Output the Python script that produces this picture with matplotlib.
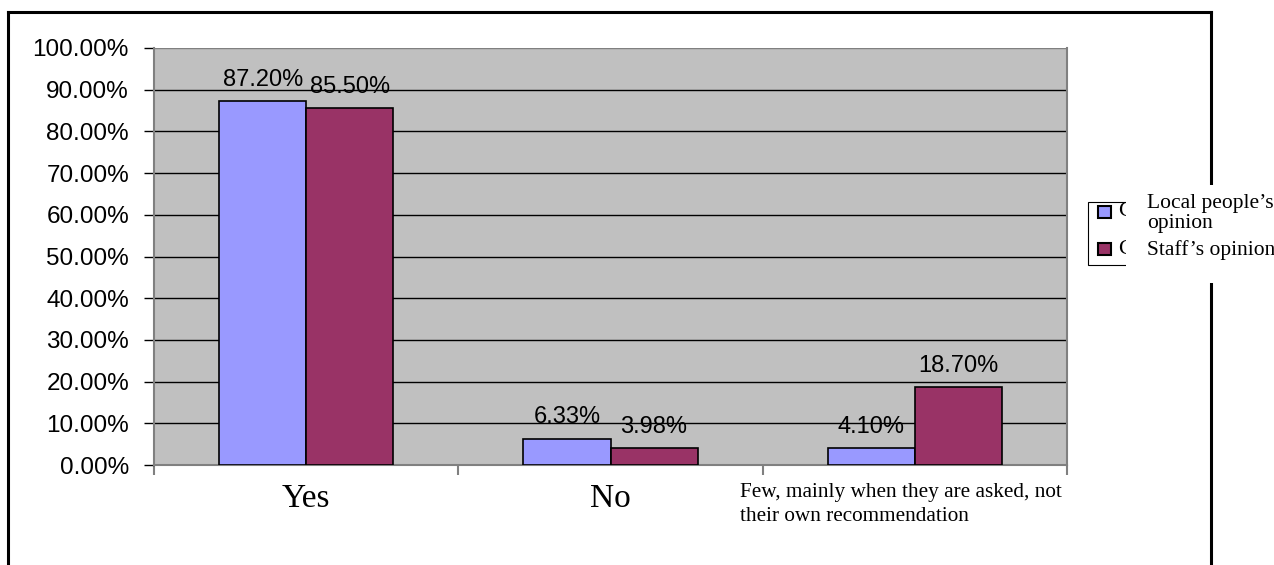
import matplotlib.pyplot as plt
from matplotlib.patches import Rectangle
from matplotlib.lines import Line2D
from matplotlib.transforms import ScaledTranslation
import numpy as np

# Dados
categories = ["Yes", "No", "Few, mainly when they are asked, not\ntheir own recommendation"]
local_people = [87.20, 6.33, 4.10]
staff = [85.50, 3.98, 18.70]
series_names = ["Local people\u2019s\nopinion", "Staff\u2019s opinion"]
y_ticks = [0, 10, 20, 30, 40, 50, 60, 70, 80, 90, 100]

blue = "#9999FF"
maroon = "#993366"

fig = plt.figure(figsize=(12.74, 5.65), dpi=100)
W, H = 1274, 565
ax = fig.add_axes([154 / W, 1 - 465 / H, (1067 - 154) / W, (465 - 48) / H])
ax.set_facecolor("#C0C0C0")

x = np.arange(len(categories))
bw = 0.286
b1 = ax.bar(x - bw / 2, local_people, bw, color=blue, edgecolor="black", linewidth=1.2, zorder=3)
b2 = ax.bar(x + bw / 2, staff, bw, color=maroon, edgecolor="black", linewidth=1.2, zorder=3)

# rótulos dos valores
for bars, vals in [(b1, local_people), (b2, staff)]:
    for rect, v in zip(bars, vals):
        ax.annotate(f"{v:.2f}%", (rect.get_x() + rect.get_width() / 2, v),
                    textcoords="offset points", xytext=(0, 11), ha="center", va="baseline",
                    fontsize=17, family="Liberation Sans", zorder=4)

ax.set_xlim(-0.5, 2.5)
ax.set_ylim(0, 100)
ax.set_yticks(y_ticks)
ax.set_yticklabels([f"{t:.2f}%" for t in y_ticks], family="Liberation Sans", fontsize=17.5)
ax.yaxis.grid(True, color="black", linewidth=1)
ax.set_axisbelow(True)
ax.get_ygridlines()[-1].set_color("#808080")

ax.set_xticks(x)
ax.set_xticklabels(categories, family="Liberation Serif", fontsize=24)
ax.set_xticks([-0.5, 0.5, 1.5, 2.5], minor=True)
ax.tick_params(axis="x", which="major", length=0, pad=13)
ax.tick_params(axis="x", which="minor", length=7, color="#808080", width=1.5)
ax.tick_params(axis="y", length=7, color="black", width=1, pad=11)

# terceiro rótulo menor e alinhado à esquerda
lbl = ax.get_xticklabels()[2]
lbl.set_fontsize(15.3)
lbl.set_multialignment("left")
lbl.set_linespacing(1.35)
lbl.set_transform(lbl.get_transform() + ScaledTranslation(-0.14, 0, fig.dpi_scale_trans))

ax.spines["top"].set_visible(False)
for s in ["left", "bottom", "right"]:
    ax.spines[s].set_color("#808080")
    ax.spines[s].set_linewidth(1.5)

# moldura externa (em pixels)
def px(xp, yp):
    return xp / W, 1 - yp / H

for (x0, y0), (x1, y1) in [((8, 570), (8, 12)), ((8, 12), (1211, 12)), ((1211, 12), (1211, 570))]:
    a, b = px(x0, y0)
    c, d = px(x1, y1)
    fig.add_artist(Line2D([a, c], [b, d], color="black", linewidth=2.2, zorder=1))

# legenda feita à mão
lx, ly = px(1088, 265)
fig.add_artist(Rectangle((lx, ly), 60 / W, 63 / H, transform=fig.transFigure,
                         facecolor="white", edgecolor="black", linewidth=0.8, zorder=2))
for yy, col in [(212, blue), (249, maroon)]:
    mx, my = px(1098, yy + 6)
    fig.add_artist(Rectangle((mx, my), 13 / W, 12 / H, transform=fig.transFigure,
                             facecolor=col, edgecolor="black", linewidth=1.5, zorder=3))
    tx, ty = px(1118, yy)
    fig.text(tx, ty, "C", family="Liberation Serif", fontsize=16, va="center", zorder=3)
wx, wy = px(1126, 283)
fig.add_artist(Rectangle((wx, wy), 150 / W, 98 / H, transform=fig.transFigure,
                         facecolor="white", edgecolor="none", zorder=4))
t1x, t1y = px(1147, 208)
fig.text(t1x, t1y, series_names[0].split("\n")[0], family="Liberation Serif", fontsize=15.5,
         va="baseline", ha="left", zorder=5)
t1x, t1y = px(1147, 228)
fig.text(t1x, t1y, series_names[0].split("\n")[1], family="Liberation Serif", fontsize=15.5,
         va="baseline", ha="left", zorder=5)
t2x, t2y = px(1147, 255)
fig.text(t2x, t2y, series_names[1], family="Liberation Serif", fontsize=15.5,
         va="baseline", ha="left", zorder=5)

plt.savefig("out.png", dpi=100)
